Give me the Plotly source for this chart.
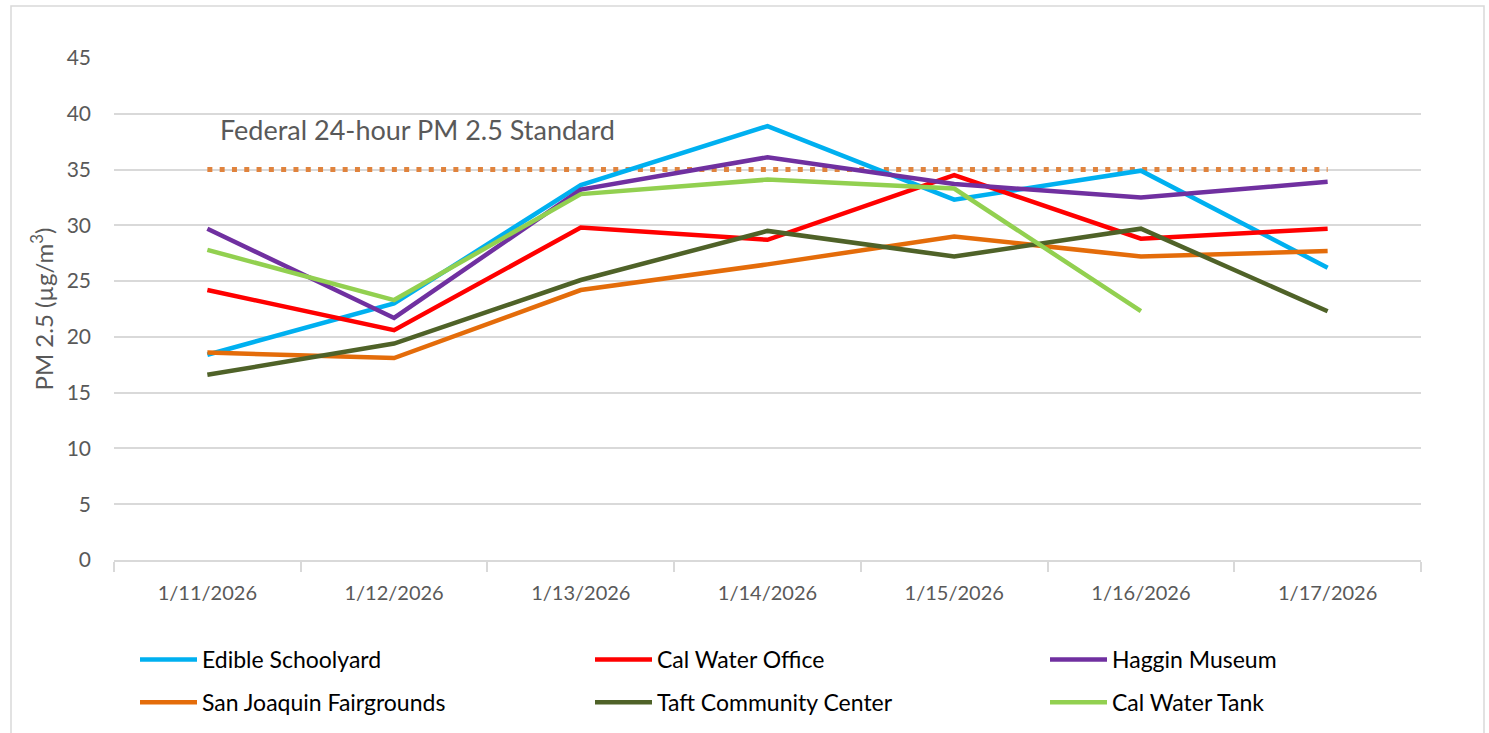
import plotly.graph_objects as go

dates = ["1/11/2026", "1/12/2026", "1/13/2026", "1/14/2026", "1/15/2026", "1/16/2026", "1/17/2026"]

edible_schoolyard = [18.4, 23.0, 33.6, 38.9, 32.3, 34.9, 26.2]
cal_water_office = [24.2, 20.6, 29.8, 28.7, 34.5, 28.8, 29.7]
haggin_museum = [29.7, 21.7, 33.2, 36.1, 33.7, 32.5, 33.9]
sj_fairgrounds = [18.6, 18.1, 24.2, 26.5, 29.0, 27.2, 27.7]
taft_center = [16.6, 19.4, 25.1, 29.5, 27.2, 29.7, 22.3]
cal_water_tank = [27.8, 23.3, 32.8, 34.1, 33.3, 22.3, None]
federal_standard = [35, 35, 35, 35, 35, 35, 35]

series_names = ["Edible Schoolyard", "Cal Water Office", "Haggin Museum",
                "San Joaquin Fairgrounds", "Taft Community Center", "Cal Water Tank"]
series_values = [edible_schoolyard, cal_water_office, haggin_museum,
                 sj_fairgrounds, taft_center, cal_water_tank]
series_colors = ["#00B0F0", "#FF0000", "#7030A0", "#E46C0A", "#4F6228", "#92D050"]
series_legend = ["legend", "legend2", "legend3", "legend", "legend2", "legend3"]

FONT = "Lato"
W, H = 1489, 733
L, R, T, B = 114, 1421, 58, 560  # plot area edges in pixels
PW, PH = R - L, B - T


def px_x(p):
    return (p - L) / PW


def px_y(p):
    return (B - p) / PH


fig = go.Figure()

fig.add_trace(go.Scatter(
    x=dates, y=federal_standard, mode="lines", name="Federal 24-hour PM 2.5 Standard",
    line=dict(color="#E0833D", width=5, dash="5px,7.3px"), showlegend=False,
    hoverinfo="skip"))

for i, (name, vals, col, lg) in enumerate(zip(series_names, series_values, series_colors, series_legend)):
    fig.add_trace(go.Scatter(
        x=dates, y=vals, mode="lines", name=name, legend=lg, legendgroup=f"g{i}",
        line=dict(color=col, width=4.5), connectgaps=False))

fig.add_annotation(
    x=px_x(218), xref="paper", y=38.63, yref="y", xanchor="left", yanchor="middle",
    text="Federal 24-hour PM 2.5 Standard", showarrow=False,
    font=dict(family=FONT, size=27, color="#595959"))

# outer chart border
fig.add_shape(type="rect", xref="paper", yref="paper",
              x0=px_x(11), x1=px_x(1484), y0=px_y(760), y1=px_y(6),
              line=dict(color="#D9D9D9", width=1.5), fillcolor="rgba(0,0,0,0)", layer="below")

legend_common = dict(orientation="v", xanchor="left", yanchor="top", y=px_y(638),
                     font=dict(family=FONT, size=23, color="#000000"),
                     itemwidth=57, tracegroupgap=10, traceorder="grouped",
                     bgcolor="rgba(0,0,0,0)")

fig.update_layout(
    width=W, height=H,
    margin=dict(l=L, r=W - R, t=T, b=H - B, autoexpand=False),
    paper_bgcolor="white", plot_bgcolor="white",
    font=dict(family=FONT, size=19, color="#595959"),
    showlegend=True,
    legend=dict(x=px_x(135), **legend_common),
    legend2=dict(x=px_x(590), **legend_common),
    legend3=dict(x=px_x(1045), **legend_common),
    xaxis=dict(type="category", range=[-0.5, 6.5], showgrid=False, showline=True,
               linecolor="#D9D9D9", linewidth=1.5,
               ticks="outside", tickson="boundaries", tickcolor="#D9D9D9", ticklen=10, tickwidth=1.5,
               ticklabelstandoff=14,
               tickfont=dict(family=FONT, size=20, color="#595959"), fixedrange=True),
    yaxis=dict(range=[0, 45], dtick=5, showgrid=True, gridcolor="#D9D9D9", gridwidth=1.5,
               zeroline=False, showline=False, ticks="",
               tickfont=dict(family=FONT, size=21, color="#595959"), ticklabelstandoff=22,
               title=dict(text="PM 2.5 (µg/m<sup>3</sup>)", standoff=6,
                          font=dict(family=FONT, size=24, color="#595959")),
               fixedrange=True),
)

fig.write_html("out.html", config={"displayModeBar": False},
               post_script="document.body.style.margin='0px';document.body.style.overflow='hidden';")
